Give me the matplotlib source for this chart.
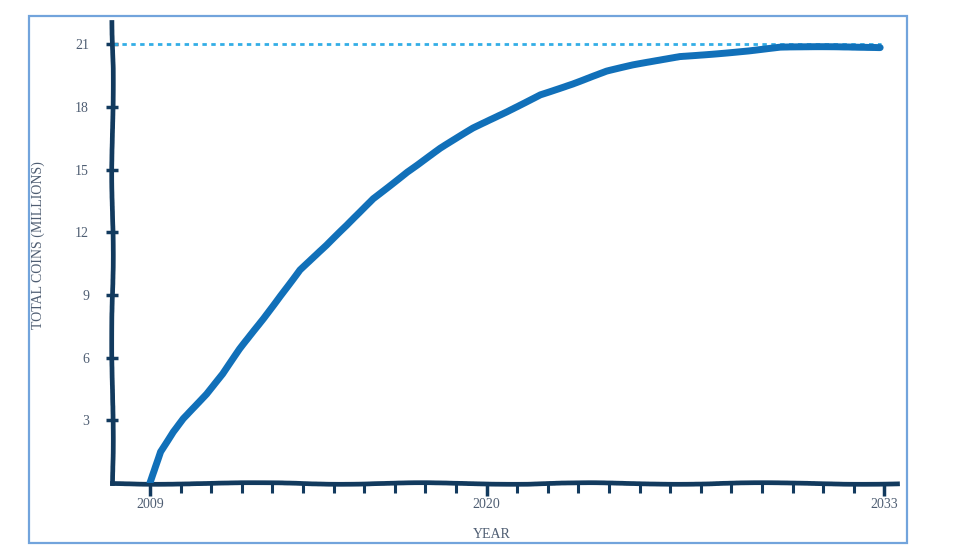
import matplotlib
matplotlib.use("Agg")
import matplotlib.pyplot as plt
from matplotlib.patches import Rectangle

# Values (year, total coins in millions)
years = [2009.0, 2009.33, 2009.75, 2010.08, 2010.86, 2011.39, 2011.94, 2012.69,
         2013.25, 2013.9, 2014.78, 2015.44, 2016.29, 2017.4, 2018.48, 2019.56,
         2020.67, 2021.75, 2022.82, 2023.93, 2024.78, 2026.32, 2028.6, 2029.6,
         2032.86]
coins = [0.0, 1.5, 2.46, 3.09, 4.25, 5.2, 6.4, 7.85,
         8.97, 10.2, 11.36, 12.32, 13.61, 14.9, 16.0, 16.96,
         17.77, 18.6, 19.11, 19.69, 19.98, 20.41, 20.7, 20.85,
         20.85]
supply_cap = 21
y_ticks = [3, 6, 9, 12, 15, 18, 21]
x_labels = [2009, 2020, 2033]
x_minor = list(range(2009, 2034))

navy = "#123a5e"
curve_blue = "#1170b9"
cap_blue = "#33aee6"
label_col = "#4e5d72"

plt.rcParams["font.family"] = ["Liberation Serif", "DejaVu Serif"]

W, H = 960, 549
fig = plt.figure(figsize=(W / 100, H / 100), dpi=100)

# light blue outer frame
fig.patches.append(Rectangle((29 / W, 1 - 543 / H), (907 - 29) / W, (543 - 16) / H,
                             transform=fig.transFigure, fill=False,
                             edgecolor="#72a4dc", linewidth=1.6))

ax = fig.add_axes([112 / W, 1 - 483 / H, (897 - 112) / W, (483 - 22) / H])
ax.set_xlim(2007.76, 2033.41)
ax.set_ylim(0, 22.06)

line, = ax.plot(years, coins, color=curve_blue, linewidth=5,
                solid_capstyle="round", solid_joinstyle="round", zorder=3)
line.set_sketch_params(scale=0.6, length=220, randomness=3)

ax.plot([2007.8, 2032.9], [supply_cap, supply_cap], color=cap_blue,
        linewidth=2, linestyle=(0, (1.6, 1.6)), zorder=2)

for side in ["top", "right"]:
    ax.spines[side].set_visible(False)
for side in ["left", "bottom"]:
    ax.spines[side].set_color(navy)
    ax.spines[side].set_linewidth(3.4)
    ax.spines[side].set_sketch_params(scale=0.8, length=250, randomness=4)

ax.set_yticks(y_ticks)
ax.set_yticklabels([str(v) for v in y_ticks])
ax.tick_params(axis="y", direction="inout", length=9, width=2.5, color=navy,
               labelsize=10, labelcolor=label_col, pad=12)

ax.set_xticks(x_labels)
ax.set_xticklabels([str(v) for v in x_labels])
ax.set_xticks(x_minor, minor=True)
ax.tick_params(axis="x", which="major", direction="out", length=9, width=2.5,
               color=navy, labelsize=10, labelcolor=label_col, pad=2)
ax.tick_params(axis="x", which="minor", direction="out", length=7, width=2.2,
               color=navy)

fig.text(492 / W, 1 - 535 / H, "YEAR", ha="center", va="center",
         fontsize=10, color=label_col)
fig.text(38 / W, 1 - 245 / H, "TOTAL COINS (MILLIONS)", ha="center", va="center",
         rotation=90, fontsize=10, color=label_col)

fig.savefig("out.png", dpi=100)
plt.close(fig)
